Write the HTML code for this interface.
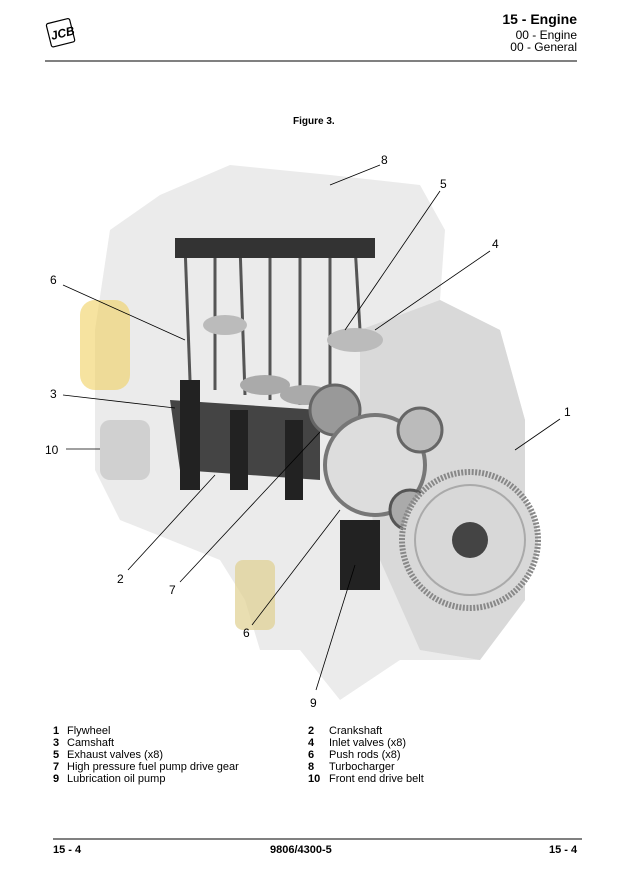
<!DOCTYPE html>
<html><head><style>
body{margin:0;width:633px;height:887px;background:#fff;font-family:"Liberation Sans",sans-serif;position:relative;overflow:hidden}
.a{position:absolute;white-space:nowrap;color:#000}
</style></head><body>
<svg class="a" style="left:0;top:0" width="633" height="887">
<g transform="translate(46,24) rotate(-14)"><rect x="0" y="0" width="24" height="24" rx="2" fill="#fff" stroke="#000" stroke-width="1.2"/><text x="2" y="17" font-family="Liberation Sans" font-weight="bold" font-size="12" font-style="italic">JCB</text></g>
<line x1="45" y1="61" x2="577" y2="61" stroke="#000" stroke-width="1"/>
<line x1="53" y1="839" x2="582" y2="839" stroke="#000" stroke-width="1"/>
<path d="M95 330 L110 230 L160 195 L230 165 L330 175 L420 185 L445 230 L440 300 L500 330 L525 420 L525 600 L480 660 L400 660 L340 700 L300 650 L260 650 L245 600 L220 560 L120 520 L95 470 Z" fill="#ebebeb"/>
<path d="M360 330 L440 300 L500 330 L525 420 L525 600 L480 660 L420 650 L380 560 L360 450 Z" fill="#d9d9d9"/>
<rect x="80" y="300" width="50" height="90" rx="15" fill="#f0d060" opacity=".6"/>
<rect x="100" y="420" width="50" height="60" rx="10" fill="#d0d0d0"/>
<rect x="235" y="560" width="40" height="70" rx="8" fill="#e0d090" opacity=".7"/>
<g stroke="#555" stroke-width="3"><line x1="185" y1="245" x2="190" y2="380"/><line x1="215" y1="245" x2="215" y2="390"/><line x1="240" y1="245" x2="245" y2="395"/><line x1="270" y1="245" x2="270" y2="400"/><line x1="300" y1="245" x2="300" y2="405"/><line x1="330" y1="245" x2="330" y2="405"/><line x1="355" y1="245" x2="360" y2="330"/></g>
<rect x="175" y="238" width="200" height="20" fill="#333"/>
<ellipse cx="225" cy="325" rx="22" ry="10" fill="#bbb"/><ellipse cx="355" cy="340" rx="28" ry="12" fill="#bbb"/>
<ellipse cx="265" cy="385" rx="25" ry="10" fill="#aaa"/><ellipse cx="305" cy="395" rx="25" ry="10" fill="#aaa"/>
<path d="M170 400 L320 410 L320 480 L180 470 Z" fill="#444"/>
<rect x="180" y="380" width="20" height="110" fill="#222"/><rect x="230" y="410" width="18" height="80" fill="#222"/><rect x="285" y="420" width="18" height="80" fill="#222"/>
<circle cx="335" cy="410" r="25" fill="#999" stroke="#666" stroke-width="3"/>
<circle cx="375" cy="465" r="50" fill="#ddd" stroke="#777" stroke-width="4"/>
<circle cx="420" cy="430" r="22" fill="#bbb" stroke="#666" stroke-width="3"/>
<circle cx="410" cy="510" r="20" fill="#aaa" stroke="#555" stroke-width="3"/>
<rect x="340" y="520" width="40" height="70" fill="#222"/>
<circle cx="470" cy="540" r="68" fill="#d8d8d8" stroke="#888" stroke-width="6" stroke-dasharray="2 1.5"/>
<circle cx="470" cy="540" r="55" fill="none" stroke="#aaa" stroke-width="2"/>
<circle cx="470" cy="540" r="18" fill="#444"/>
<g stroke="#000" stroke-width="0.8" fill="none">
<line x1="380" y1="165" x2="330" y2="185"/><line x1="440" y1="191" x2="345" y2="330"/><line x1="490" y1="251" x2="375" y2="330"/>
<line x1="63" y1="285" x2="185" y2="340"/><line x1="63" y1="395" x2="175" y2="408"/><line x1="66" y1="449" x2="100" y2="449"/>
<line x1="560" y1="419" x2="515" y2="450"/><line x1="128" y1="570" x2="215" y2="475"/><line x1="180" y1="582" x2="320" y2="432"/>
<line x1="252" y1="625" x2="340" y2="510"/><line x1="316" y1="690" x2="355" y2="565"/></g>
<g font-family="Liberation Sans" font-size="12">
<text x="381" y="164">8</text><text x="440" y="188">5</text><text x="492" y="248">4</text><text x="50" y="284">6</text><text x="50" y="398">3</text><text x="45" y="454">10</text><text x="564" y="416">1</text><text x="117" y="583">2</text><text x="169" y="594">7</text><text x="243" y="637">6</text><text x="310" y="707">9</text></g>
</svg>
<div class="a" style="right:56px;top:11px;font-size:14px;font-weight:bold">15 - Engine</div>
<div class="a" style="right:56px;top:29px;font-size:12px;line-height:12px;text-align:right">00 - Engine<br>00 - General</div>
<div class="a" style="left:293px;top:116px;font-size:10px;font-weight:bold">Figure 3.</div>
<div class="a" style="left:53px;top:725px;font-size:11px;line-height:12px"><b>1</b><br><b>3</b><br><b>5</b><br><b>7</b><br><b>9</b></div>
<div class="a" style="left:67px;top:725px;font-size:11px;line-height:12px">Flywheel<br>Camshaft<br>Exhaust valves (x8)<br>High pressure fuel pump drive gear<br>Lubrication oil pump</div>
<div class="a" style="left:308px;top:725px;font-size:11px;line-height:12px"><b>2</b><br><b>4</b><br><b>6</b><br><b>8</b><br><b>10</b></div>
<div class="a" style="left:329px;top:725px;font-size:11px;line-height:12px">Crankshaft<br>Inlet valves (x8)<br>Push rods (x8)<br>Turbocharger<br>Front end drive belt</div>
<div class="a" style="left:53px;top:844px;font-size:11px;font-weight:bold">15 - 4</div>
<div class="a" style="left:270px;top:844px;font-size:11px;font-weight:bold">9806/4300-5</div>
<div class="a" style="left:549px;top:844px;font-size:11px;font-weight:bold">15 - 4</div>
</body></html>
